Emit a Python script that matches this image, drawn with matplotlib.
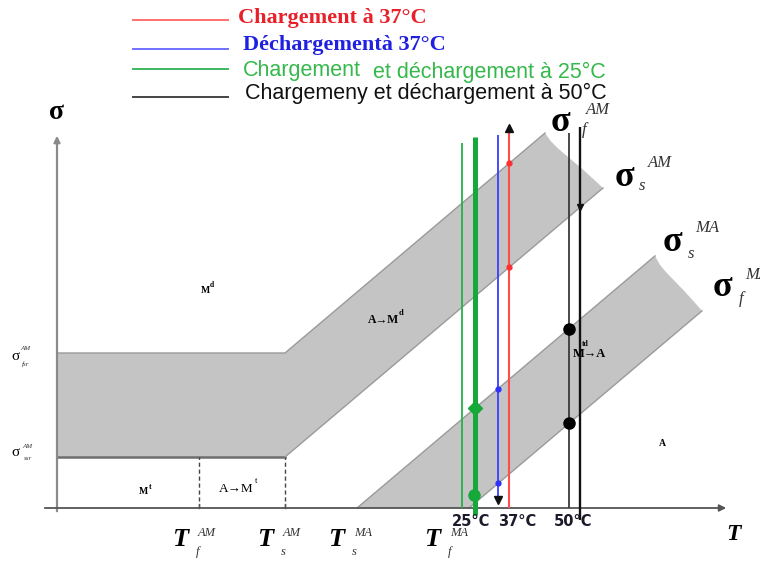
import numpy as np
import matplotlib.pyplot as plt

SERIF = 'Liberation Serif'
SANS = 'Liberation Sans'

# transformation temperatures on the T axis (Tf_AM, Ts_AM, Ts_MA, Tf_MA)
t_trans = [142, 228, 300, 412]
t_sub = ['f', 's', 's', 'f']
t_sup = ['AM', 'AM', 'MA', 'MA']
t_label_x = [123, 208, 279, 375]

# critical stresses of the plateau (sigma_ssr^AM, sigma_fsr^AM) and slope of the lines
sig_sr = [51, 155]
slope = 0.846
am_end = [488, 546]     # T where the A->M band stops (upper edge, lower edge)
ma_end = [598, 645]     # same for the M->A band

# loading paths
path_T = [405, 418, 441, 452, 512, 523]
path_top = [365, 371, 373, 380, 375, 381]
path_bot = [0, -7, 6, 0, 0, -12]
path_lw = [1.3, 3.6, 1.3, 1.5, 1.3, 1.7]
path_col = ['#27b04a', '#17a83a', '#3c3cff', '#ff4c4c', '#3a3a3a', '#111111']

temp_labels = ['25°C', '37°C', '50°C']
temp_x = [414, 460, 516]

legend_text = ['Chargement à 37°C', 'Déchargementà 37°C', 'Chargement',
               'Chargemeny et déchargement à 50°C']
legend_line_col = ['#ff7070', '#7070ff', '#3cb860', '#444444']
legend_text_col = ['#e8202a', '#2020e0', '#35b84c', '#111111']
legend_y = [488, 459, 439, 411]


def sig_s_am(T):
    return sig_sr[0] + slope * (T - t_trans[1])


def sig_f_am(T):
    return sig_sr[1] + slope * (T - t_trans[1])


def sig_s_ma(T):
    return slope * (T - t_trans[2])


def sig_f_ma(T):
    return slope * (T - t_trans[3])


def torn_edge(p0, p1, n=9, amp=2.0):
    # ragged cut between two corners of a band, with a notch near the top
    s = np.linspace(0, 1, n)
    x = p0[0] + (p1[0] - p0[0]) * s
    y = p0[1] + (p1[1] - p0[1]) * s
    bump = -amp * np.sin(s * np.pi) * np.exp(-4 * s) * 3
    return list(zip(x + bump, y + bump))


def sym(ax, x, y, base, sup, sub, size, ssize, dsup, dsub, bold=True):
    ax.text(x, y, base, fontsize=size, family=SERIF,
            fontweight='bold' if bold else 'normal', ha='center', va='center')
    ax.text(x + dsup[0], y + dsup[1], sup, fontsize=ssize, family=SERIF,
            style='italic', ha='center', va='center', color='#333333')
    ax.text(x + dsub[0], y + dsub[1], sub, fontsize=ssize, family=SERIF,
            style='italic', ha='center', va='center', color='#333333')


fig = plt.figure(figsize=(7.6, 5.61), dpi=100)
ax = fig.add_axes([0, 0, 1, 1])
ax.set_xlim(-57, 703)
ax.set_ylim(-53, 508)
ax.axis('off')

band = '#c4c4c4'
edge = '#9a9a9a'

# A -> M^d band: plateau then inclined
top_c = (am_end[0], sig_f_am(am_end[0]))
bot_c = (am_end[1], sig_s_am(am_end[1]))
poly = [(0, sig_sr[1]), (t_trans[1], sig_sr[1]), top_c] + torn_edge(top_c, bot_c)[1:-1] + \
       [bot_c, (t_trans[1], sig_sr[0]), (0, sig_sr[0])]
ax.fill(*zip(*poly), color=band, lw=0, zorder=1)
ax.plot([0, t_trans[1], top_c[0]], [sig_sr[1], sig_sr[1], top_c[1]], color=edge, lw=1, zorder=2)
ax.plot([0, t_trans[1]], [sig_sr[0], sig_sr[0]], color='#6e6e6e', lw=1.8, zorder=2)
ax.plot([t_trans[1], bot_c[0]], [sig_sr[0], bot_c[1]], color=edge, lw=1, zorder=2)

# M -> A band
top_c = (ma_end[0], sig_s_ma(ma_end[0]))
bot_c = (ma_end[1], sig_f_ma(ma_end[1]))
poly = [(t_trans[2], 0), top_c] + torn_edge(top_c, bot_c)[1:-1] + [bot_c, (t_trans[3], 0)]
ax.fill(*zip(*poly), color=band, lw=0, zorder=1)
ax.plot([t_trans[2], top_c[0]], [0, top_c[1]], color=edge, lw=1, zorder=2)
ax.plot([t_trans[3], bot_c[0]], [0, bot_c[1]], color=edge, lw=1, zorder=2)

# dashed limits of A -> M^t
for T in t_trans[:2]:
    ax.plot([T, T], [0, sig_sr[0]], color='#444444', lw=1, ls=(0, (3, 2)), zorder=2)

# axes with arrows
ax.annotate('', xy=(0, 375), xytext=(0, -6),
            arrowprops=dict(arrowstyle='-|>', color='#8a8a8a', lw=1.6, mutation_scale=9))
ax.annotate('', xy=(672, 0), xytext=(-15, 0),
            arrowprops=dict(arrowstyle='-|>', color='#555555', lw=1.3, mutation_scale=10))
for T in t_trans[:2]:
    ax.plot([T, T], [0, 4], color='#555555', lw=1)

# loading / unloading paths
for T, y0, y1, lw, c in zip(path_T, path_bot, path_top, path_lw, path_col):
    ax.plot([T, T], [y0, y1], color=c, lw=lw, zorder=3, solid_capstyle='butt')

# markers on the paths
ax.plot(path_T[3], path_top[3], marker='^', color='#111111', ms=6, zorder=4)
ax.plot([path_T[3]] * 2, [sig_f_am(path_T[3]), sig_s_am(path_T[3])], 'o', color='#ff3030', ms=3.5, zorder=4)
ax.plot([path_T[2]] * 2, [sig_s_ma(path_T[2]), sig_f_ma(path_T[2])], 'o', color='#3030ff', ms=3.5, zorder=4)
ax.plot(path_T[2], path_bot[2] + 2, marker='v', color='#111111', ms=6, zorder=4)
ax.plot(path_T[1], 100, marker='D', color='#17a83a', ms=7, zorder=4)
ax.plot(path_T[1] - 1, 13, marker='o', color='#17a83a', ms=8, zorder=4)
ax.plot([path_T[4]] * 2, [sig_s_ma(path_T[4]), sig_f_ma(path_T[4])], 'o', color='#000000', ms=8, zorder=4)
ax.plot(path_T[5], sig_s_am(path_T[5]), marker='v', color='#111111', ms=5, zorder=4)

for lab, x in zip(temp_labels, temp_x):
    ax.text(x, -13, lab, fontsize=10.5, fontweight='bold', family='DejaVu Sans',
            ha='center', va='center', color='#1a1a2a')

# region labels
ax.text(148, 218, 'M', fontsize=7, family=SERIF, fontweight='bold', ha='center', va='center')
ax.text(155, 223, 'd', fontsize=5.5, family=SERIF, fontweight='bold', ha='center', va='center')
ax.text(327, 188, 'A→M', fontsize=8.5, family=SERIF, fontweight='bold', ha='center', va='center')
ax.text(344, 195, 'd', fontsize=6, family=SERIF, fontweight='bold', ha='center', va='center')
ax.text(86, 16, 'M', fontsize=7, family=SERIF, fontweight='bold', ha='center', va='center')
ax.text(93, 21, 't', fontsize=5.5, family=SERIF, fontweight='bold', ha='center', va='center')
ax.text(179, 19, 'A→M', fontsize=9.5, family=SERIF, ha='center', va='center')
ax.text(199, 27, 't', fontsize=6, family=SERIF, ha='center', va='center')
ax.text(532, 154, 'M→A', fontsize=9, family=SERIF, fontweight='bold', ha='center', va='center')
ax.text(528, 164, 'td', fontsize=5.5, family=SERIF, fontweight='bold', ha='center', va='center')
ax.text(605, 65, 'A', fontsize=7, family=SERIF, fontweight='bold', ha='center', va='center')

# stress labels
sym(ax, 503, 386, 'σ', 'AM', 'f', 26, 12, (38, 12), (24, -8))
sym(ax, 567, 331, 'σ', 'AM', 's', 26, 12, (36, 14), (18, -9))
sym(ax, 615, 266, 'σ', 'MA', 's', 26, 12, (35, 14), (19, -12))
sym(ax, 665, 221, 'σ', 'MA', 'f', 26, 12, (35, 12), (19, -12))
sym(ax, -42, 151, 'σ', 'AM', 'fsr', 11, 5, (10, 9), (11, -7), bold=False)
sym(ax, -42, 55, 'σ', 'AM', 'ssr', 11, 5, (12, 6), (13, -5), bold=False)

# temperature labels
for x, sub, sup in zip(t_label_x, t_sub, t_sup):
    sym(ax, x, -32, 'T', sup, sub, 19, 9, (27, 7), (18, -12))
for t in ax.texts:
    if t.get_text() == 'T':
        t.set_style('italic')

ax.text(0, 396, 'σ', fontsize=20, family=SERIF, fontweight='bold', ha='center', va='center')
ax.text(676, -27, 'T', fontsize=17, family=SERIF, fontweight='bold', style='italic',
        ha='center', va='center')

# legend
for y, lc in zip(legend_y, legend_line_col):
    ax.plot([76, 171], [y, y], color=lc, lw=1.4)
ax.text(181, 490, legend_text[0], fontsize=16, family=SERIF, fontweight='bold',
        color=legend_text_col[0], va='center')
ax.text(186, 463, legend_text[1], fontsize=16, family=SERIF, fontweight='bold',
        color=legend_text_col[1], va='center')
ax.text(186, 438, legend_text[2], fontsize=15.5, family=SANS,
        color=legend_text_col[2], va='center')
ax.text(316, 436, 'et déchargement à 25°C', fontsize=15.5, family=SANS,
        color=legend_text_col[2], va='center')
ax.text(188, 415, legend_text[3], fontsize=15.5, family=SANS,
        color=legend_text_col[3], va='center')

fig.savefig('out.png', dpi=100)
